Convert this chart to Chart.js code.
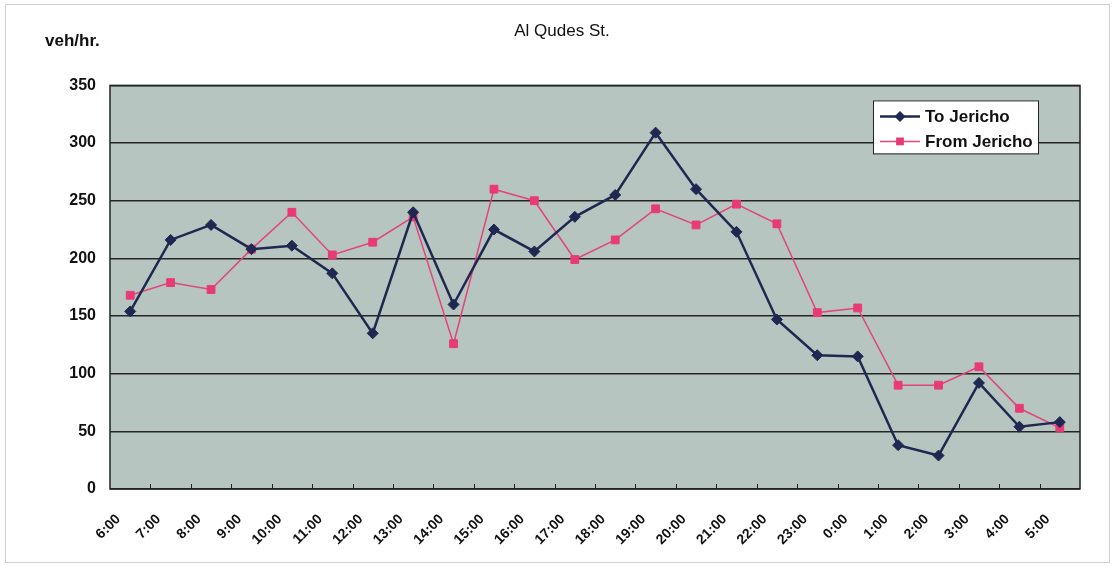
<!DOCTYPE html>
<html>
<head>
<meta charset="utf-8">
<title>Al Qudes St.</title>
<script src="https://cdn.jsdelivr.net/npm/chart.js@4/dist/chart.umd.min.js"></script>
<style>
  html, body { margin: 0; padding: 0; background: #fff; }
  #wrap { position: relative; width: 1115px; height: 567px; }
</style>
</head>
<body>
<div id="wrap"><canvas id="traffic-chart"></canvas></div>
<script>
var hours = ['6:00', '7:00', '8:00', '9:00', '10:00', '11:00', '12:00', '13:00', '14:00', '15:00', '16:00', '17:00',
  '18:00', '19:00', '20:00', '21:00', '22:00', '23:00', '0:00', '1:00', '2:00', '3:00', '4:00', '5:00'];
var toJericho = [154, 216, 229, 208, 211, 187, 135, 240, 160, 225, 206, 236,
  255, 309, 260, 223, 147, 116, 115, 38, 29, 92, 54, 58];
var fromJericho = [168, 179, 173, 208, 240, 203, 214, 236, 126, 260, 250, 199,
  216, 243, 229, 247, 230, 153, 157, 90, 90, 106, 70, 53];
var yMax = 350;
var yStep = 50;
var chartTitle = 'Al Qudes St.';
var unitLabel = 'veh/hr.';

(function () {
  'use strict';

  var FONT = '"Liberation Sans", Arial, sans-serif';
  var INK = '#111';

  function drawMarker(ctx, style, x, y, r) {
    ctx.beginPath();
    if (style === 'rectRot') {
      ctx.moveTo(x, y - r);
      ctx.lineTo(x + r, y);
      ctx.lineTo(x, y + r);
      ctx.lineTo(x - r, y);
      ctx.closePath();
    } else {
      var s = r * Math.SQRT1_2;
      ctx.rect(x - s, y - s, 2 * s, 2 * s);
    }
    ctx.fill();
  }

  // plot background, outer frame, unit text
  var backdrop = {
    id: 'backdrop',
    beforeDraw: function (chart) {
      var ctx = chart.ctx, a = chart.chartArea;
      ctx.save();
      ctx.fillStyle = '#fff';
      ctx.fillRect(0, 0, chart.width, chart.height);
      ctx.strokeStyle = '#cfcfcf';
      ctx.lineWidth = 1;
      ctx.strokeRect(5.5, 4.5, chart.width - 11, chart.height - 9);
      ctx.fillStyle = '#b6c5bf';
      ctx.fillRect(a.left, a.top, a.right - a.left, a.bottom - a.top);
      ctx.fillStyle = INK;
      ctx.font = 'bold 17px ' + FONT;
      ctx.textBaseline = 'middle';
      ctx.fillText(unitLabel, a.left - 65, a.top - 44);
      ctx.restore();
    },
    beforeDatasetsDraw: function (chart) {
      var ctx = chart.ctx, a = chart.chartArea, x = chart.scales.x;
      ctx.save();
      ctx.strokeStyle = '#222';
      ctx.lineWidth = 1.5;
      ctx.strokeRect(a.left, a.top, a.right - a.left, a.bottom - a.top);
      ctx.lineWidth = 1;
      ctx.beginPath();
      for (var i = 1; i < hours.length; i++) {
        var px = Math.round((x.getPixelForValue(i - 1) + x.getPixelForValue(i)) / 2) + 0.5;
        ctx.moveTo(px, a.bottom);
        ctx.lineTo(px, a.bottom - 5);
      }
      ctx.stroke();
      ctx.restore();
    }
  };

  // boxed legend inside the plot, top right
  var boxLegend = {
    id: 'boxLegend',
    afterDatasetsDraw: function (chart) {
      var ctx = chart.ctx, a = chart.chartArea;
      var bx = a.right - 207, by = a.top + 15, bw = 165, bh = 53;
      ctx.save();
      ctx.fillStyle = '#fff';
      ctx.fillRect(bx, by, bw, bh);
      ctx.strokeStyle = '#222';
      ctx.lineWidth = 1;
      ctx.strokeRect(bx + 0.5, by + 0.5, bw, bh);
      chart.data.datasets.forEach(function (ds, i) {
        var y = by + 16 + i * 25;
        ctx.strokeStyle = ds.borderColor;
        ctx.lineWidth = ds.borderWidth;
        ctx.beginPath();
        ctx.moveTo(bx + 7, y);
        ctx.lineTo(bx + 47, y);
        ctx.stroke();
        ctx.fillStyle = ds.pointBackgroundColor;
        drawMarker(ctx, ds.pointStyle, bx + 27, y, ds.pointRadius);
        ctx.fillStyle = INK;
        ctx.font = 'bold 17px ' + FONT;
        ctx.textBaseline = 'middle';
        ctx.fillText(ds.label, bx + 52, y + 1);
      });
      ctx.restore();
    }
  };

  var el = document.getElementById('traffic-chart');

  new Chart(el, {
    type: 'line',
    data: {
      labels: hours,
      datasets: [
        {
          label: 'To Jericho',
          data: toJericho,
          borderColor: '#1f2850',
          borderWidth: 2.5,
          pointStyle: 'rectRot',
          pointRadius: 5.5,
          pointBackgroundColor: '#1f2850',
          pointBorderColor: '#1f2850',
          pointBorderWidth: 1,
          tension: 0,
        },
        {
          label: 'From Jericho',
          data: fromJericho,
          borderColor: '#e2457c',
          borderWidth: 1.5,
          pointStyle: 'rect',
          pointRadius: 5.5,
          pointBackgroundColor: '#e83a74',
          pointBorderColor: '#e83a74',
          pointBorderWidth: 1,
          tension: 0,
        },
      ],
    },
    options: {
      responsive: true,
      maintainAspectRatio: false,
      animation: false,
      layout: { padding: { left: 44, right: 35, top: 0, bottom: 18 } },
      plugins: {
        legend: { display: false },
        tooltip: { enabled: false },
        title: {
          display: true,
          text: chartTitle,
          color: INK,
          font: { family: FONT, size: 17, weight: 'normal' },
          padding: { top: 21, bottom: 44 },
        },
      },
      scales: {
        x: {
          offset: true,
          grid: { display: false, drawTicks: false },
          border: { display: false },
          ticks: {
            color: INK,
            font: { family: FONT, size: 14, weight: 'bold' },
            minRotation: 45,
            maxRotation: 45,
            autoSkip: false,
            padding: 22,
            labelOffset: -12,
          },
          afterFit: function (s) { s.height = 60; },
        },
        y: {
          min: 0,
          max: yMax,
          grid: { color: '#262626', lineWidth: 1.4, drawTicks: false },
          border: { display: false },
          ticks: {
            stepSize: yStep,
            color: INK,
            font: { family: FONT, size: 16, weight: 'bold' },
            padding: 14,
          },
          afterFit: function (s) { s.width = 66; },
        },
      },
    },
    plugins: [backdrop, boxLegend],
  });
})();
</script>
</body>
</html>
